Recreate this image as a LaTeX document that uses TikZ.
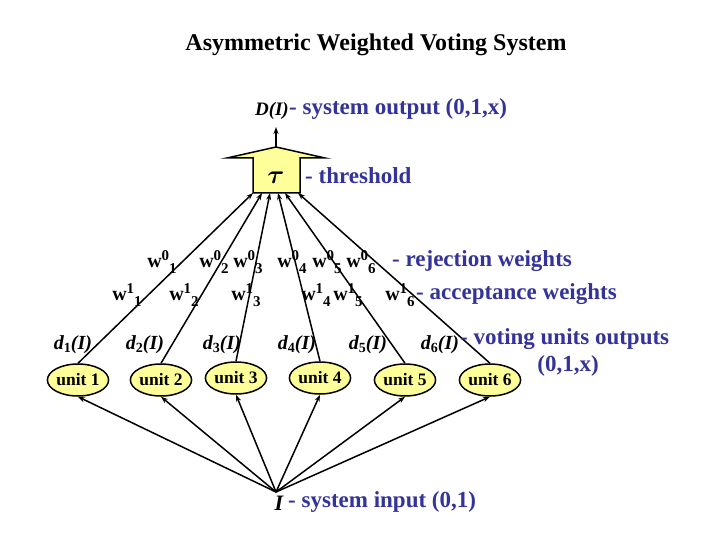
\documentclass[tikz,border=0pt]{standalone}
\usepackage{amsmath,amssymb,bm}
\usepackage{fontspec}
\setmainfont{Liberation Serif}
\usetikzlibrary{shapes.geometric,arrows.meta}
\definecolor{tb}{HTML}{333399}
\definecolor{uy}{HTML}{FFFF99}
\begin{document}
\begin{tikzpicture}[x=1pt,y=-1pt,
 unit/.style={ellipse,draw,line width=1.5pt,fill=uy,minimum width=58pt,minimum height=32pt,inner sep=0pt,font=\bfseries\fontsize{17.5}{17.5}\selectfont},
 bl/.style={text=tb,font=\bfseries\fontsize{23}{25}\selectfont,inner sep=0pt},
 wt/.style={font=\bfseries\fontsize{20}{20}\selectfont,inner sep=0pt},
 dd/.style={font=\bfseries\itshape\fontsize{20}{20}\selectfont,inner sep=0pt},
 ar/.style={-{Stealth[length=7pt,width=5pt]},line width=1.5pt}]
\useasboundingbox (0,0) rectangle (720,540);
\node[font=\bfseries\fontsize{24}{26}\selectfont] (title) at (376,45) {Asymmetric Weighted Voting System};
% threshold arrow box
\draw[line width=1.5pt,fill=uy] (253,193) -- (253,158) -- (227,158) -- (276,147) -- (325,158) -- (300,158) -- (300,193) -- cycle;
\coordinate (apex) at (276,147);
\coordinate (out) at (276,127);
\draw[ar] (apex) -- (out);
\node[inner sep=0pt,scale=2.6] (tau) at (276,178) {$\bm{\tau}$};
\node[bl,anchor=west] (thr) at (305,176) {- threshold};
\node[anchor=east,inner sep=0pt,font=\bfseries\itshape\fontsize{19}{19}\selectfont] (D) at (289,111) {D(I)};
\node[bl,anchor=west] (sysout) at (289,109) {- system output (0,1,x)};
% units
\foreach \i/\x/\y in {1/78/380,2/161/380,3/236/378,4/320/378,5/405/380,6/490/380}
  \node[unit] (u\i) at (\x,\y) {unit \i};
\foreach \i/\t in {1/253,2/262,3/270,4/278,5/285,6/298}
  {\coordinate (t\i) at (\t,193);
   \draw[ar] (u\i.north) -- (t\i);}
\node[inner sep=0pt,font=\bfseries\itshape\fontsize{22}{22}\selectfont] (I) at (279,503) {I};
\coordinate (in) at (276,492);
\foreach \i in {1,...,6} \draw[ar] (in) -- (u\i.south);
\node[bl,anchor=west] (sysin) at (288,502) {- system input (0,1)};
% weights
\foreach \i/\x in {1/162,2/214,3/248,4/292,5/327,6/361}
  \node[wt] (wz\i) at (\x,262) {w\raisebox{7pt}{\fontsize{15}{15}\selectfont 0}\raisebox{-6pt}{\fontsize{15}{15}\selectfont\i}};
\node[bl,anchor=west] (rej) at (392,261) {- rejection weights};
\foreach \i/\x in {1/127,2/184,3/246,4/316,5/348,6/400}
  \node[wt] (wo\i) at (\x,295) {w\raisebox{7pt}{\fontsize{15}{15}\selectfont 1}\raisebox{-6pt}{\fontsize{15}{15}\selectfont\i}};
\node[bl,anchor=west] (acc) at (416,294) {- acceptance weights};
\foreach \i/\x in {1/73,2/145,3/222,4/297,5/368,6/440}
  \node[dd] (d\i) at (\x,345) {d\raisebox{-3pt}{\upshape\fontsize{14}{14}\selectfont\i}(I)};
\node[bl,anchor=west] (vot) at (460,339) {- voting units outputs};
\node[bl] (vot2) at (568,366) {(0,1,x)};
\end{tikzpicture}
\end{document}
